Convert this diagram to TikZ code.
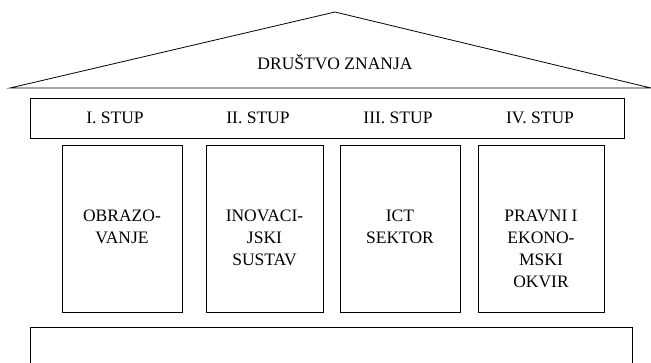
\documentclass[tikz,border=0pt]{standalone}
\usepackage{fontspec}
\setmainfont{Liberation Serif}
\usetikzlibrary{calc,positioning}

\begin{document}
\begin{tikzpicture}[x=1pt,y=-1pt,every node/.style={align=center,font=\fontsize{17.5}{22}\selectfont},
  stupbox/.style={draw,thick,inner sep=0pt,minimum height=167pt}]
\useasboundingbox (0,0) rectangle (651,362);
\coordinate (RoofTop) at (335,12);
\coordinate (RoofLeft) at (10,88);
\coordinate (RoofRight) at (651,88);
\draw [thick] (RoofLeft) -- (RoofTop) -- (RoofRight) -- cycle;
\node (Drustvo) at (335,62) {DRUŠTVO ZNANJA};
\node [draw,thick,minimum width=594pt,minimum height=40pt] (Stupovi) at (327,118) {};
\node (Stup1) at (115,118) {I. STUP};
\node (Stup2) at (258,118) {II. STUP};
\node (Stup3) at (398,118) {III. STUP};
\node (Stup4) at (540,118) {IV. STUP};
\node [stupbox,minimum width=120pt] (Obrazovanje) at (122,228.5) {};
\node [stupbox,minimum width=117pt] (Inovacije) at (264.5,228.5) {};
\node [stupbox,minimum width=120pt] (Ict) at (400,228.5) {};
\node [stupbox,minimum width=126pt] (Pravni) at (541,228.5) {};
\node [anchor=north] (ObrazovanjeText) at (Obrazovanje.north |- 0,206) {OBRAZO-\\VANJE};
\node [anchor=north] (InovacijeText) at (Inovacije.north |- 0,206) {INOVACI-\\JSKI\\SUSTAV};
\node [anchor=north] (IctText) at (Ict.north |- 0,206) {ICT\\SEKTOR};
\node [anchor=north] (PravniText) at (Pravni.north |- 0,206) {PRAVNI I\\EKONO-\\MSKI\\OKVIR};
\draw [thick] (30,380) -- (30,327) -- (632,327) -- (632,380);
\end{tikzpicture}
\end{document}
